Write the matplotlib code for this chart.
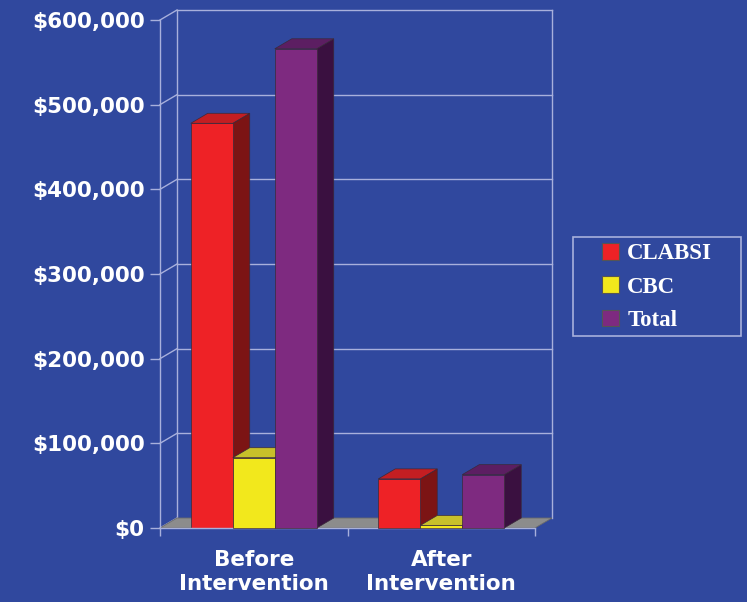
import matplotlib
matplotlib.use('Agg')
import matplotlib.pyplot as plt
from matplotlib.patches import Polygon, Patch, Rectangle
from matplotlib.ticker import FuncFormatter
from matplotlib.font_manager import FontProperties

# ---- data ----
categories = ['Before\nIntervention', 'After\nIntervention']
series_names = ['CLABSI', 'CBC', 'Total']
clabsi = [478000, 58000]
cbc = [83000, 3000]
total = [566000, 63000]
y_ticks = [0, 100000, 200000, 300000, 400000, 500000, 600000]

# ---- style ----
BG = '#30489e'
front_colors = ['#ee2226', '#f2e81c', '#7e2a80']
top_colors = ['#c41e22', '#c8c02a', '#5c1e62']
side_colors = ['#7c1414', '#a09a10', '#3a1040']
GRID = '#a8b0dc'
FLOOR = '#8c8c8c'
EDGE = '#3a2a3a'

W, H = 747, 602
fig = plt.figure(figsize=(W / 100, H / 100), dpi=100, facecolor=BG)
ax_l, ax_b, ax_w, ax_h = 160, 74, 375, 508
ax = fig.add_axes([ax_l / W, ax_b / H, ax_w / W, ax_h / H])
ax.set_facecolor('none')
ymax = 600000
ax.set_xlim(0, 2)
ax.set_ylim(0, ymax)

# depth offset (pixels -> data units)
DXp, DYp = 17, 10
ddx = DXp * 2 / ax_w
ddy = DYp * ymax / ax_h

# floor
ax.add_patch(Polygon([(0, 0), (2, 0), (2 + ddx, ddy), (ddx, ddy)], closed=True,
                     facecolor=FLOOR, edgecolor='#6a6a6a', lw=0.6, zorder=1, clip_on=False))

# back wall grid & frame
for t in y_ticks:
    if t > 0:
        ax.plot([ddx, 2 + ddx], [t + ddy, t + ddy], color=GRID, lw=1.0, zorder=0.5, clip_on=False)
    ax.plot([0, ddx], [t, t + ddy], color=GRID, lw=1.0, zorder=0.5, clip_on=False)
ax.plot([ddx, ddx], [ddy, ymax + ddy], color=GRID, lw=1.0, zorder=0.5, clip_on=False)
ax.plot([2 + ddx, 2 + ddx], [ddy, ymax + ddy], color=GRID, lw=1.0, zorder=0.5, clip_on=False)

# bars
series = [clabsi, cbc, total]
bw = 0.224
groups = [0.5, 1.5]
z = 2
for gi, g in enumerate(groups):
    for si, vals in enumerate(series):
        v = vals[gi]
        xc = g + (si - 1) * bw
        x0, x1 = xc - bw / 2, xc + bw / 2
        ax.add_patch(Polygon([(x1, 0), (x1 + ddx, ddy), (x1 + ddx, v + ddy), (x1, v)], closed=True,
                             facecolor=side_colors[si], edgecolor=EDGE, lw=0.5, zorder=z, clip_on=False))
        ax.bar([xc], [v], width=bw, color=front_colors[si], edgecolor=EDGE, lw=0.5,
               zorder=z + 0.1, clip_on=False)
        ax.add_patch(Polygon([(x0, v), (x1, v), (x1 + ddx, v + ddy), (x0 + ddx, v + ddy)], closed=True,
                             facecolor=top_colors[si], edgecolor=EDGE, lw=0.5, zorder=z + 0.2, clip_on=False))
        z += 1

# axes styling
for s in ['top', 'right']:
    ax.spines[s].set_visible(False)
ax.spines['left'].set_color(GRID)
ax.spines['bottom'].set_color(GRID)
ax.spines['left'].set_linewidth(1.0)
ax.spines['bottom'].set_linewidth(1.0)

ax.set_yticks(y_ticks)
ax.yaxis.set_major_formatter(FuncFormatter(lambda v, p: f'${v:,.0f}'))
ax.tick_params(axis='y', colors=GRID, length=7, width=1.0, pad=4, labelcolor='white')
for lab in ax.get_yticklabels():
    lab.set_fontsize(15.5)
    lab.set_fontweight('bold')
    lab.set_family('DejaVu Sans')

ax.set_xticks(groups)
ax.set_xticklabels(categories, fontsize=15.5, fontweight='bold', color='white',
                   linespacing=1.25, family='DejaVu Sans')
ax.tick_params(axis='x', which='major', length=0, pad=16)
ax.set_xticks([0, 1, 2], minor=True)
ax.tick_params(axis='x', which='minor', length=6, width=1.0, colors=GRID)

# legend
fig.patches.append(Rectangle((573 / W, 1 - 336 / H), (741 - 573) / W, (336 - 237) / H,
                             transform=fig.transFigure, facecolor='none', edgecolor=GRID, lw=1.2))
handles = [Patch(facecolor=c, edgecolor='#555555', lw=0.8) for c in front_colors]
leg = fig.legend(handles, series_names, loc='center left',
                 bbox_to_anchor=(602 / W, 1 - 287 / H), frameon=False,
                 prop=FontProperties(family='Liberation Serif', weight='bold', size=16.5),
                 labelcolor='white', handlelength=0.75, handleheight=0.75,
                 handletextpad=0.35, labelspacing=0.52, borderpad=0, borderaxespad=0)

fig.savefig('out.png', dpi=100, facecolor=BG)
